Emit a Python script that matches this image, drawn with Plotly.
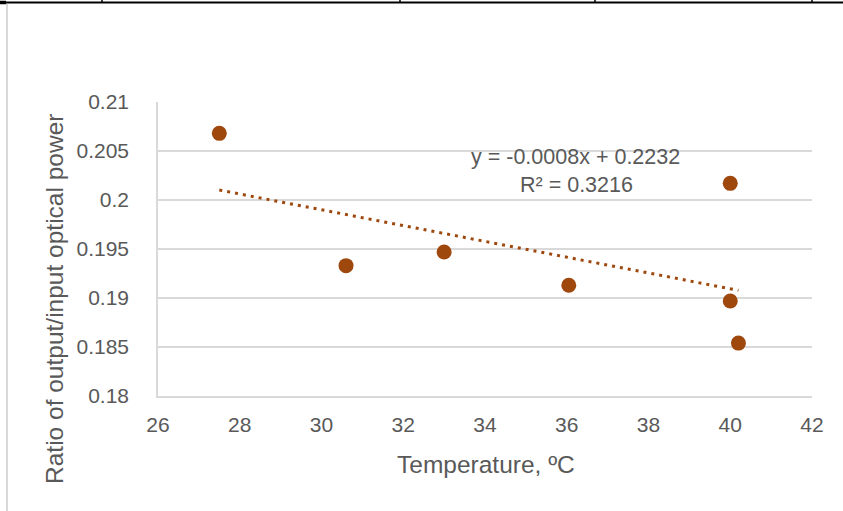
import numpy as np
import plotly.graph_objects as go

# ---- data ----
temperature_c = [27.5, 30.6, 33.0, 36.05, 40.0, 40.0, 40.2]
power_ratio = [0.2068, 0.1933, 0.1947, 0.1913, 0.2017, 0.1897, 0.1854]
x_ticks = [26, 28, 30, 32, 34, 36, 38, 40, 42]
y_ticks = [0.18, 0.185, 0.19, 0.195, 0.2, 0.205, 0.21]
y_tick_labels = ["0.18", "0.185", "0.19", "0.195", "0.2", "0.205", "0.21"]
trend_eq_text = "y = -0.0008x + 0.2232"
trend_r2_text = "R\u00b2 = 0.3216"
x_title = "Temperature, \u00baC"
y_title = "Ratio of output/input optical power"

# ---- layout geometry ----
W, H = 843, 511
L, R, T, B = 158, 31, 102, 115
PW, PH = W - L - R, H - T - B

def px_x(px):
    return (px - L) / PW

def px_y(py):
    return (H - B - py) / PH

MARK = "#9E480E"
TXT = "#595959"
GRID = "#D9D9D9"
FONT = "Liberation Sans, Arial, sans-serif"

# linear trendline fitted to the data
slope, intercept = np.polyfit(temperature_c, power_ratio, 1)
tx = [min(temperature_c), max(temperature_c)]
ty = [slope * v + intercept for v in tx]

fig = go.Figure()
fig.add_trace(go.Scatter(
    x=tx, y=ty, mode="lines",
    line=dict(color=MARK, width=3, dash="3px,5px"),
    hoverinfo="skip", showlegend=False,
))
fig.add_trace(go.Scatter(
    x=temperature_c, y=power_ratio, mode="markers",
    marker=dict(color=MARK, size=15, line=dict(width=0)),
    showlegend=False,
))

fig.update_layout(
    width=W, height=H,
    margin=dict(l=L, r=R, t=T, b=B, pad=0),
    paper_bgcolor="white", plot_bgcolor="white",
    font=dict(family=FONT, color=TXT, size=21),
    showlegend=False,
    xaxis=dict(
        range=[26, 42], tickmode="array", tickvals=x_ticks,
        ticktext=[str(v) for v in x_ticks],
        showgrid=False, zeroline=False,
        showline=True, linecolor=GRID, linewidth=1.5,
        ticks="", ticklabelstandoff=9,
        tickfont=dict(family=FONT, color=TXT, size=21),
    ),
    yaxis=dict(
        range=[0.18, 0.21], tickmode="array", tickvals=y_ticks,
        ticktext=y_tick_labels,
        showgrid=True, gridcolor=GRID, gridwidth=1.5,
        zeroline=False,
        showline=True, linecolor=GRID, linewidth=1.5,
        ticks="", ticklabelstandoff=23,
        tickfont=dict(family=FONT, color=TXT, size=21),
    ),
    annotations=[
        dict(text=trend_eq_text, xref="paper", yref="paper",
             x=px_x(575), y=px_y(157), xanchor="center", yanchor="middle",
             showarrow=False, font=dict(family=FONT, color=TXT, size=21.5)),
        dict(text=trend_r2_text, xref="paper", yref="paper",
             x=px_x(576), y=px_y(185), xanchor="center", yanchor="middle",
             showarrow=False, font=dict(family=FONT, color=TXT, size=21.5)),
        dict(text=x_title, xref="paper", yref="paper",
             x=px_x(486), y=px_y(464), xanchor="center", yanchor="middle",
             showarrow=False, font=dict(family=FONT, color=TXT, size=24.5)),
        dict(text=y_title, xref="paper", yref="paper", textangle=-90,
             x=px_x(54), y=px_y(299), xanchor="center", yanchor="middle",
             showarrow=False, font=dict(family=FONT, color=TXT, size=24.5)),
    ],
    shapes=[
        # outer chart border (left, light grey)
        dict(type="line", xref="paper", yref="paper",
             x0=px_x(7), x1=px_x(7), y0=px_y(4), y1=px_y(H),
             line=dict(color=GRID, width=2)),
        # black rule across the top
        dict(type="line", xref="paper", yref="paper",
             x0=px_x(0), x1=px_x(W), y0=px_y(2.5), y1=px_y(2.5),
             line=dict(color="black", width=2)),
        dict(type="line", xref="paper", yref="paper",
             x0=px_x(0), x1=px_x(6), y0=px_y(2.5), y1=px_y(2.5),
             line=dict(color="black", width=3.5)),
    ] + [
        dict(type="line", xref="paper", yref="paper",
             x0=px_x(p), x1=px_x(p), y0=px_y(0), y1=px_y(3),
             line=dict(color="black", width=1.5))
        for p in (102, 400, 595, 812)
    ],
)

fig.write_html(
    "out.html",
    config={"displayModeBar": False},
    post_script="document.body.style.margin='0px';document.body.style.overflow='hidden';",
)
